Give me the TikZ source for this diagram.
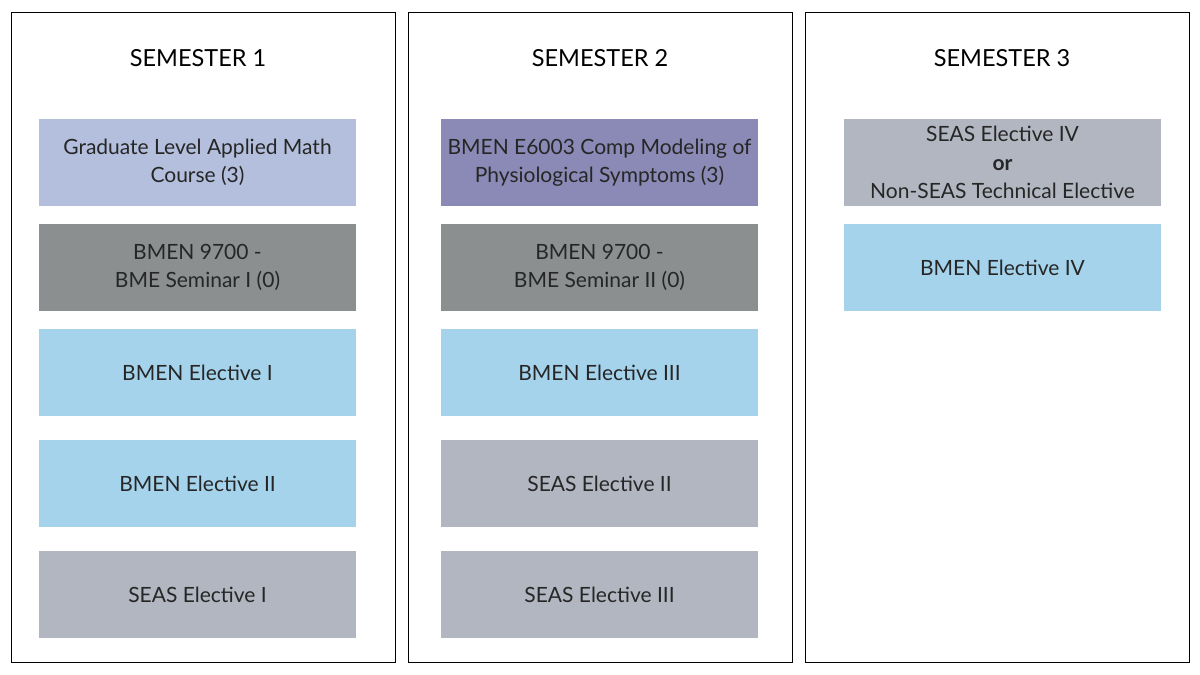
\documentclass[tikz,border=0pt]{standalone}
\usepackage{fontspec}
\setmainfont{Lato}
\usetikzlibrary{positioning}

\definecolor{mathblue}{HTML}{B3BFDD}
\definecolor{compviolet}{HTML}{8B89B5}
\definecolor{seminargray}{HTML}{8B8F8F}
\definecolor{bmenblue}{HTML}{A5D3EC}
\definecolor{seasgray}{HTML}{B1B6C0}
\definecolor{textgray}{HTML}{262626}

\begin{document}
\begin{tikzpicture}[
    x=1pt, y=-1pt,
    node distance={18pt},
    semester/.style={draw, line width=1.2pt, minimum width=384pt, minimum height=650pt, anchor=north west, inner sep=0pt},
    heading/.style={font=\fontsize{23.5}{28}\selectfont},
    course/.style={minimum width=317pt, minimum height=87pt, inner sep=2pt, outer sep=0pt, align=center, text=textgray, font=\fontsize{21}{28.5}\selectfont}
]

\useasboundingbox (0,0) rectangle (1200,675);

% semester frames
\node[semester] (sem1) at (11,12) {};
\node[semester] (sem2) at (408,12) {};
\node[semester] (sem3) at (805,12) {};

\node[heading] (t1) at (198,58) {SEMESTER 1};
\node[heading] (t2) at (600,58) {SEMESTER 2};
\node[heading] (t3) at (1002,58) {SEMESTER 3};

% semester 1
\node[course, fill=mathblue, anchor=north west] (math1) at (39,119) {Graduate Level Applied Math\\Course (3)};
\node[course, fill=seminargray] (sem1a) [below=of math1] {BMEN 9700 -\\BME Seminar I (0)};
\node[course, fill=bmenblue] (bmen1) [below=of sem1a] {BMEN Elective I};
\node[course, fill=bmenblue] (bmen2) [below=24pt of bmen1] {BMEN Elective II};
\node[course, fill=seasgray] (seas1) [below=24pt of bmen2] {SEAS Elective I};

% semester 2
\node[course, fill=compviolet, anchor=north west] (comp2) at (441,119) {BMEN E6003 Comp Modeling of\\Physiological Symptoms (3)};
\node[course, fill=seminargray] (sem2a) [below=of comp2] {BMEN 9700 -\\BME Seminar II (0)};
\node[course, fill=bmenblue] (bmen3) [below=of sem2a] {BMEN Elective III};
\node[course, fill=seasgray] (seas2) [below=24pt of bmen3] {SEAS Elective II};
\node[course, fill=seasgray] (seas3) [below=24pt of seas2] {SEAS Elective III};

% semester 3
\node[course, fill=seasgray, anchor=north west] (seas4) at (844,119) {SEAS Elective IV\\{\bfseries or}\\Non-SEAS Technical Elective};
\node[course, fill=bmenblue] (bmen4) [below=of seas4] {BMEN Elective IV};

\end{tikzpicture}
\end{document}
